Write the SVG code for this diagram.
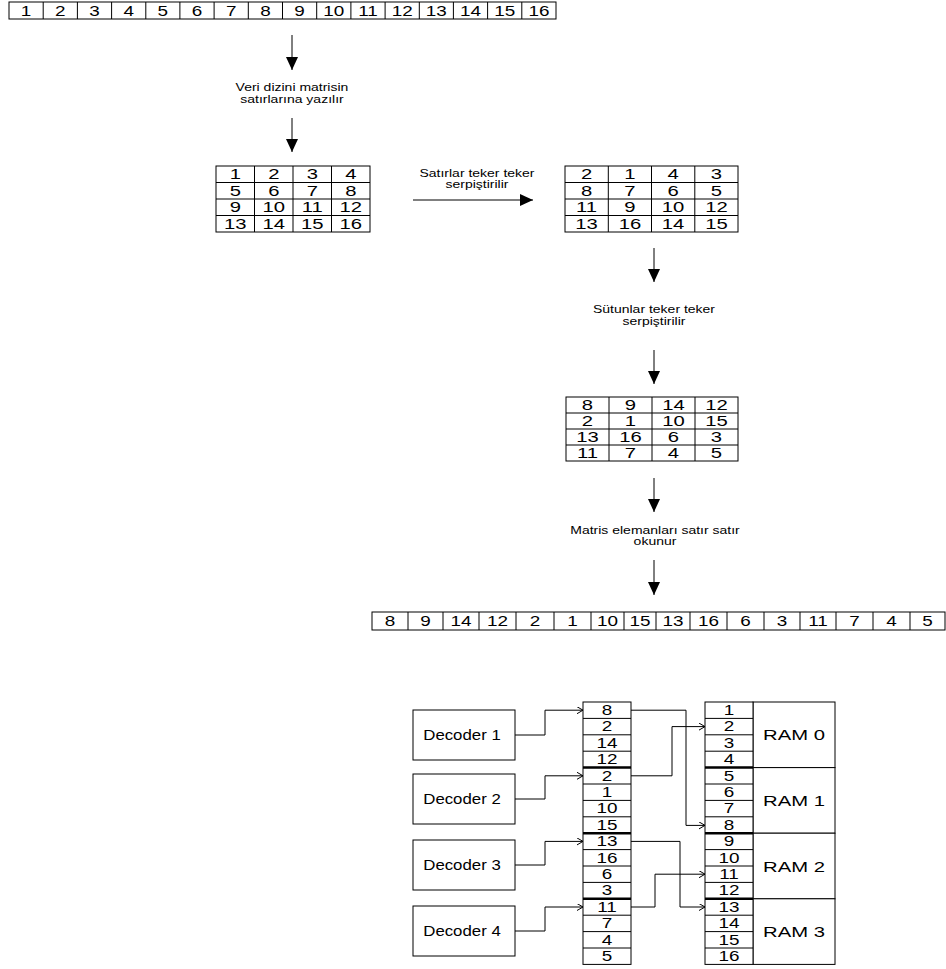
<svg xmlns="http://www.w3.org/2000/svg" width="946" height="969" viewBox="0 0 946 969">
  <style>
    .bg { fill: #ffffff; }
    .cell { fill: #ffffff; stroke: #000000; stroke-width: 1; }
    .ln { stroke: #000000; stroke-width: 1; fill: none; }
    .thick { stroke: #000000; stroke-width: 2.5; fill: none; }
    text { font-family: "Liberation Sans", Arial, sans-serif; text-anchor: middle; fill: #000000; }
    .num { font-size: 14px; }
    .mnum { font-size: 15px; }
    .lbl { font-size: 10px; }
    .dec { font-size: 14px; }
    .ram { font-size: 15px; }
    .flow { stroke: #000000; stroke-width: 1; fill: none; marker-end: url(#solid); }
    .conn { stroke: #000000; stroke-width: 1; fill: none; marker-end: url(#open); }
  </style>
  <defs>
    <marker id="solid" markerUnits="userSpaceOnUse" markerWidth="14" markerHeight="12" refX="13" refY="6" orient="auto">
      <path d="M0,0 L13,6 L0,12 z" fill="#000000"/>
    </marker>
    <marker id="open" markerUnits="userSpaceOnUse" markerWidth="8" markerHeight="8" refX="6" refY="3.5" orient="auto">
      <path d="M0,0 L6,3.5 L0,7" fill="none" stroke="#000000" stroke-width="1"/>
    </marker>
  </defs>
  <rect class="bg" x="0" y="0" width="946" height="969"/>

  <!-- input sequence 1..16 (text groups are widened horizontally; x values are pre-divided by the scale) -->
  <g id="input-row">
    <rect class="cell" x="9" y="2" width="547" height="17"/>
    <path class="ln" d="M43.2,2V19 M77.4,2V19 M111.6,2V19 M145.8,2V19 M179.9,2V19 M214.1,2V19 M248.3,2V19 M282.5,2V19 M316.7,2V19 M350.9,2V19 M385.1,2V19 M419.3,2V19 M453.4,2V19 M487.6,2V19 M521.8,2V19"/>
    <g transform="scale(1.35 1)">
      <text class="num" y="16"><tspan x="19.33">1</tspan><tspan x="44.67">2</tspan><tspan x="70">3</tspan><tspan x="95.33">4</tspan><tspan x="120.59">5</tspan><tspan x="145.93">6</tspan><tspan x="171.26">7</tspan><tspan x="196.59">8</tspan><tspan x="221.93">9</tspan><tspan x="247.26">10</tspan><tspan x="272.59">11</tspan><tspan x="297.93">12</tspan><tspan x="323.19">13</tspan><tspan x="348.52">14</tspan><tspan x="373.85">15</tspan><tspan x="399.19">16</tspan></text>
    </g>
  </g>

  <g id="label-write" transform="scale(1.4 1)">
    <text class="lbl" x="208.57" y="91.5">Veri dizini matrisin</text>
    <text class="lbl" x="208.57" y="103.5">satırlarına yazılır</text>
  </g>

  <!-- matrix written row by row -->
  <g id="matrix-1">
    <rect class="cell" x="216" y="166" width="154" height="66"/>
    <path class="ln" d="M254.5,166V232 M293,166V232 M331.5,166V232 M216,182.5H370 M216,199H370 M216,215.5H370"/>
    <g transform="scale(1.35 1)">
      <text class="mnum" y="179.5"><tspan x="174.3">1</tspan><tspan x="202.81">2</tspan><tspan x="231.33">3</tspan><tspan x="259.85">4</tspan></text>
      <text class="mnum" y="196"><tspan x="174.3">5</tspan><tspan x="202.81">6</tspan><tspan x="231.33">7</tspan><tspan x="259.85">8</tspan></text>
      <text class="mnum" y="212.5"><tspan x="174.3">9</tspan><tspan x="202.81">10</tspan><tspan x="231.33">11</tspan><tspan x="259.85">12</tspan></text>
      <text class="mnum" y="229"><tspan x="174.3">13</tspan><tspan x="202.81">14</tspan><tspan x="231.33">15</tspan><tspan x="259.85">16</tspan></text>
    </g>
  </g>

  <g id="label-rows" transform="scale(1.4 1)">
    <text class="lbl" x="340.71" y="177">Satırlar teker teker</text>
    <text class="lbl" x="340.71" y="188">serpiştirilir</text>
  </g>

  <!-- matrix after row interleaving -->
  <g id="matrix-2">
    <rect class="cell" x="565" y="166" width="173" height="66"/>
    <path class="ln" d="M608.3,166V232 M651.5,166V232 M694.8,166V232 M565,182.5H738 M565,199H738 M565,215.5H738"/>
    <g transform="scale(1.35 1)">
      <text class="mnum" y="179.5"><tspan x="434.52">2</tspan><tspan x="466.59">1</tspan><tspan x="498.59">4</tspan><tspan x="530.67">3</tspan></text>
      <text class="mnum" y="196"><tspan x="434.52">8</tspan><tspan x="466.59">7</tspan><tspan x="498.59">6</tspan><tspan x="530.67">5</tspan></text>
      <text class="mnum" y="212.5"><tspan x="434.52">11</tspan><tspan x="466.59">9</tspan><tspan x="498.59">10</tspan><tspan x="530.67">12</tspan></text>
      <text class="mnum" y="229"><tspan x="434.52">13</tspan><tspan x="466.59">16</tspan><tspan x="498.59">14</tspan><tspan x="530.67">15</tspan></text>
    </g>
  </g>

  <g id="label-cols" transform="scale(1.4 1)">
    <text class="lbl" x="467.14" y="313">Sütunlar teker teker</text>
    <text class="lbl" x="467.14" y="325">serpiştirilir</text>
  </g>

  <!-- matrix after column interleaving -->
  <g id="matrix-3">
    <rect class="cell" x="566" y="397" width="172" height="64"/>
    <path class="ln" d="M609,397V461 M652,397V461 M695,397V461 M566,413H738 M566,429H738 M566,445H738"/>
    <g transform="scale(1.35 1)">
      <text class="mnum" y="410"><tspan x="435.19">8</tspan><tspan x="467.04">9</tspan><tspan x="498.89">14</tspan><tspan x="530.74">12</tspan></text>
      <text class="mnum" y="426"><tspan x="435.19">2</tspan><tspan x="467.04">1</tspan><tspan x="498.89">10</tspan><tspan x="530.74">15</tspan></text>
      <text class="mnum" y="442"><tspan x="435.19">13</tspan><tspan x="467.04">16</tspan><tspan x="498.89">6</tspan><tspan x="530.74">3</tspan></text>
      <text class="mnum" y="458"><tspan x="435.19">11</tspan><tspan x="467.04">7</tspan><tspan x="498.89">4</tspan><tspan x="530.74">5</tspan></text>
    </g>
  </g>

  <g id="label-read" transform="scale(1.4 1)">
    <text class="lbl" x="467.86" y="534">Matris elemanları satır satır</text>
    <text class="lbl" x="467.86" y="545">okunur</text>
  </g>

  <!-- interleaved output sequence -->
  <g id="output-row">
    <rect class="cell" x="372" y="612" width="573" height="18"/>
    <path class="ln" d="M408,612V630 M443,612V630 M479,612V630 M516,612V630 M554,612V630 M591,612V630 M624,612V630 M656,612V630 M690,612V630 M727,612V630 M764,612V630 M800,612V630 M836,612V630 M873,612V630 M910,612V630"/>
    <g transform="scale(1.35 1)">
      <text class="num" y="626.5"><tspan x="288.89">8</tspan><tspan x="315.19">9</tspan><tspan x="341.48">14</tspan><tspan x="368.52">12</tspan><tspan x="396.3">2</tspan><tspan x="424.07">1</tspan><tspan x="450">10</tspan><tspan x="474.07">15</tspan><tspan x="498.52">13</tspan><tspan x="524.81">16</tspan><tspan x="552.22">6</tspan><tspan x="579.26">3</tspan><tspan x="605.93">11</tspan><tspan x="632.96">7</tspan><tspan x="660.37">4</tspan><tspan x="687.04">5</tspan></text>
    </g>
  </g>

  <!-- decoders -->
  <g id="decoder-1">
    <rect class="cell" x="413" y="710" width="102" height="50"/>
    <text class="dec" transform="translate(462 740) scale(1.2 1)">Decoder 1</text>
  </g>
  <g id="decoder-2">
    <rect class="cell" x="413" y="774" width="102" height="50"/>
    <text class="dec" transform="translate(462 804) scale(1.2 1)">Decoder 2</text>
  </g>
  <g id="decoder-3">
    <rect class="cell" x="413" y="840" width="102" height="50"/>
    <text class="dec" transform="translate(462 870) scale(1.2 1)">Decoder 3</text>
  </g>
  <g id="decoder-4">
    <rect class="cell" x="413" y="906" width="102" height="50"/>
    <text class="dec" transform="translate(462 936) scale(1.2 1)">Decoder 4</text>
  </g>

  <!-- decoder output buffer -->
  <g id="buffer">
    <rect class="cell" x="583" y="702" width="48" height="262.4"/>
    <path class="ln" d="M583,718.4H631 M583,734.8H631 M583,751.2H631 M583,784H631 M583,800.4H631 M583,816.8H631 M583,849.6H631 M583,866H631 M583,882.4H631 M583,915.2H631 M583,931.6H631 M583,948H631"/>
    <path class="thick" d="M583,767.6H631 M583,833.2H631 M583,898.8H631"/>
    <g transform="scale(1.35 1)">
      <text class="num" x="449.63" y="715">8</text>
      <text class="num" x="449.63" y="731.4">2</text>
      <text class="num" x="449.63" y="747.8">14</text>
      <text class="num" x="449.63" y="764.2">12</text>
      <text class="num" x="449.63" y="780.6">2</text>
      <text class="num" x="449.63" y="797">1</text>
      <text class="num" x="449.63" y="813.4">10</text>
      <text class="num" x="449.63" y="829.8">15</text>
      <text class="num" x="449.63" y="846.2">13</text>
      <text class="num" x="449.63" y="862.6">16</text>
      <text class="num" x="449.63" y="879">6</text>
      <text class="num" x="449.63" y="895.4">3</text>
      <text class="num" x="449.63" y="911.8">11</text>
      <text class="num" x="449.63" y="928.2">7</text>
      <text class="num" x="449.63" y="944.6">4</text>
      <text class="num" x="449.63" y="961">5</text>
    </g>
  </g>

  <!-- RAM banks -->
  <g id="ram-0">
    <rect class="cell" x="753" y="702" width="82" height="65.6"/>
    <text class="ram" transform="translate(794 740.3) scale(1.35 1)">RAM 0</text>
  </g>
  <g id="ram-1">
    <rect class="cell" x="753" y="767.6" width="82" height="65.6"/>
    <text class="ram" transform="translate(794 805.9) scale(1.35 1)">RAM 1</text>
  </g>
  <g id="ram-2">
    <rect class="cell" x="753" y="833.2" width="82" height="65.6"/>
    <text class="ram" transform="translate(794 871.5) scale(1.35 1)">RAM 2</text>
  </g>
  <g id="ram-3">
    <rect class="cell" x="753" y="898.8" width="82" height="65.6"/>
    <text class="ram" transform="translate(794 937.1) scale(1.35 1)">RAM 3</text>
  </g>
  <g id="ram-cells">
    <rect class="cell" x="705" y="702" width="48" height="262.4"/>
    <path class="ln" d="M705,718.4H753 M705,734.8H753 M705,751.2H753 M705,784H753 M705,800.4H753 M705,816.8H753 M705,849.6H753 M705,866H753 M705,882.4H753 M705,915.2H753 M705,931.6H753 M705,948H753"/>
    <path class="thick" d="M705,767.6H753 M705,833.2H753 M705,898.8H753"/>
    <g transform="scale(1.35 1)">
      <text class="num" x="540" y="715">1</text>
      <text class="num" x="540" y="731.4">2</text>
      <text class="num" x="540" y="747.8">3</text>
      <text class="num" x="540" y="764.2">4</text>
      <text class="num" x="540" y="780.6">5</text>
      <text class="num" x="540" y="797">6</text>
      <text class="num" x="540" y="813.4">7</text>
      <text class="num" x="540" y="829.8">8</text>
      <text class="num" x="540" y="846.2">9</text>
      <text class="num" x="540" y="862.6">10</text>
      <text class="num" x="540" y="879">11</text>
      <text class="num" x="540" y="895.4">12</text>
      <text class="num" x="540" y="911.8">13</text>
      <text class="num" x="540" y="928.2">14</text>
      <text class="num" x="540" y="944.6">15</text>
      <text class="num" x="540" y="961">16</text>
    </g>
  </g>

  <!-- connectors -->
  <g id="connectors">
    <line class="flow" x1="292" y1="35" x2="292" y2="70"/>
    <line class="flow" x1="292" y1="118" x2="292" y2="152"/>
    <line class="flow" x1="413" y1="200" x2="533" y2="200"/>
    <line class="flow" x1="654" y1="248" x2="654" y2="282"/>
    <line class="flow" x1="654" y1="350" x2="654" y2="384"/>
    <line class="flow" x1="654" y1="478" x2="654" y2="512"/>
    <line class="flow" x1="654" y1="560" x2="654" y2="595"/>

    <path class="conn" d="M515,735H545V710.2H583"/>
    <path class="conn" d="M515,799H545V775.8H583"/>
    <path class="conn" d="M515,865H545V841.4H583"/>
    <path class="conn" d="M515,931H545V907H583"/>

    <path class="conn" d="M631,710.2H686V825.4H705"/>
    <path class="conn" d="M631,775.8H672V726.6H705"/>
    <path class="conn" d="M631,841.4H680V907H705"/>
    <path class="conn" d="M631,907H655V874.2H705"/>
  </g>
</svg>
